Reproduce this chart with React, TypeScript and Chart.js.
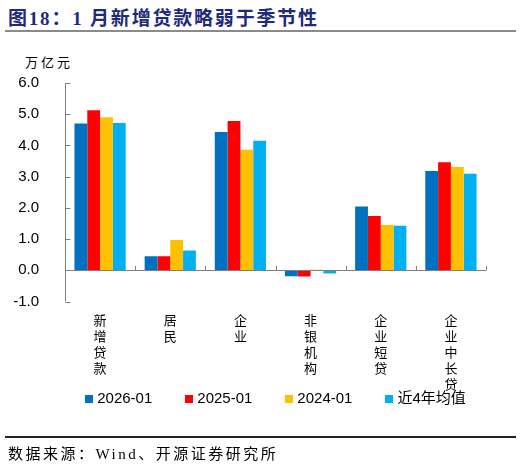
import { useEffect, useRef } from "react"
import { Chart, registerables, type Plugin } from "chart.js"

Chart.register(...registerables)

// vertical category labels: one character per line
const categories = [
  ["新", "增", "贷", "款"],
  ["居", "民"],
  ["企", "业"],
  ["非", "银", "机", "构"],
  ["企", "业", "短", "贷"],
  ["企", "业", "中", "长", "贷"],
]
const seriesNames = ["2026-01", "2025-01", "2024-01", "近4年均值"]
const jan2026 = [4.7, 0.45, 4.43, -0.19, 2.04, 3.18]
const jan2025 = [5.13, 0.45, 4.78, -0.2, 1.74, 3.46]
const jan2024 = [4.9, 0.97, 3.86, 0.02, 1.45, 3.31]
const avg4y = [4.72, 0.63, 4.15, -0.1, 1.43, 3.09]
const yTicks = [-1, 0, 1, 2, 3, 4, 5, 6]

const colors = ["#0070C0", "#FF0000", "#FFC000", "#00B0F0"]
const CJK = '"Noto Sans CJK SC", sans-serif'
const SANS = '"Liberation Sans", Arial, ' + CJK

// axis line, inward ticks and the zero line drawn from the scales
const axisLines: Plugin = {
  id: "axisLines",
  afterDatasetsDraw(chart) {
    const { ctx } = chart
    const x = chart.scales.x
    const y = chart.scales.y
    const ax = Math.round(x.left) + 0.5
    const zero = Math.round(y.getPixelForValue(0)) + 0.5
    ctx.save()
    ctx.strokeStyle = "#7f7f7f"
    ctx.lineWidth = 1
    ctx.beginPath()
    ctx.moveTo(ax, y.getPixelForValue(yTicks[yTicks.length - 1]))
    ctx.lineTo(ax, y.getPixelForValue(yTicks[0]))
    for (const v of yTicks) {
      const py = Math.round(y.getPixelForValue(v)) + 0.5
      ctx.moveTo(ax, py)
      ctx.lineTo(ax + 5, py)
    }
    ctx.moveTo(ax, zero)
    ctx.lineTo(x.right, zero)
    for (let i = 1; i <= categories.length; i++) {
      const px = Math.round(x.getPixelForValue(i - 0.5)) + 0.5
      ctx.moveTo(px, zero)
      ctx.lineTo(px, zero - 4.5)
    }
    ctx.stroke()
    ctx.restore()
  },
}

// legend row centred under the plot, small square + label
const legendRow: Plugin = {
  id: "legendRow",
  afterDraw(chart) {
    const { ctx, chartArea } = chart
    const box = 8
    const gapText = 4
    const gapItem = 33
    ctx.save()
    ctx.font = "15px " + SANS
    ctx.textBaseline = "middle"
    ctx.textAlign = "left"
    const items = chart.data.datasets.map((d) => ({
      text: String(d.label),
      color: String(d.backgroundColor),
      w: box + gapText + ctx.measureText(String(d.label)).width,
    }))
    const total = items.reduce((s, it) => s + it.w, 0) + gapItem * (items.length - 1)
    let cx = (chartArea.left + chartArea.right) / 2 - total / 2
    const cy = chartArea.bottom + 97
    for (const it of items) {
      ctx.fillStyle = it.color
      ctx.fillRect(Math.round(cx), Math.round(cy - box / 2), box, box)
      ctx.fillStyle = "#000"
      ctx.fillText(it.text, cx + box + gapText, cy)
      cx += it.w + gapItem
    }
    ctx.restore()
  },
}

function LoanChart() {
  const canvasRef = useRef<HTMLCanvasElement>(null)
  const chartRef = useRef<Chart | null>(null)

  useEffect(() => {
    if (!canvasRef.current) return
    if (chartRef.current) chartRef.current.destroy()

    const values = [jan2026, jan2025, jan2024, avg4y]
    chartRef.current = new Chart(canvasRef.current, {
      type: "bar",
      data: {
        labels: categories,
        datasets: seriesNames.map((name, i) => ({
          label: name,
          data: values[i],
          backgroundColor: colors[i],
          borderWidth: 0,
          categoryPercentage: 0.73,
          barPercentage: 1,
        })),
      },
      options: {
        animation: false,
        responsive: true,
        maintainAspectRatio: false,
        layout: { padding: { top: 83, left: 0, right: 36, bottom: 73.5 } },
        plugins: {
          tooltip: { enabled: false },
          legend: { display: false },
        },
        scales: {
          x: {
            grid: { display: false },
            border: { display: false },
            ticks: {
              color: "#000",
              autoSkip: false,
              maxRotation: 0,
              padding: 3,
              font: { family: CJK, size: 13, lineHeight: 16 / 13 },
            },
            afterFit: (s) => {
              s.height = 92
            },
          },
          y: {
            min: -1,
            max: 6,
            grid: { display: false },
            border: { display: false },
            ticks: {
              stepSize: 1,
              color: "#000",
              padding: 18,
              font: { family: SANS, size: 15 },
              callback: (v) => Number(v).toFixed(1),
            },
            afterFit: (s) => {
              s.width = 65
            },
          },
        },
      },
      plugins: [axisLines, legendRow],
    })

    return () => {
      if (chartRef.current) {
        chartRef.current.destroy()
        chartRef.current = null
      }
    }
  }, [])

  return <canvas ref={canvasRef} />
}

export default function App() {
  return (
    <div
      style={{
        position: "fixed",
        left: 0,
        top: 0,
        width: 522,
        height: 467,
        background: "#fff",
        overflow: "hidden",
      }}
    >
      <div
        style={{
          position: "absolute",
          left: 8,
          top: 3,
          fontSize: 19,
          fontWeight: "bold",
          color: "#1F2A7C",
          fontFamily: '"Liberation Serif", ' + CJK,
          whiteSpace: "nowrap",
          letterSpacing: 1.8,
        }}
      >
        图18：1 月新增贷款略弱于季节性
      </div>
      <div style={{ position: "absolute", left: 5, top: 30, width: 511, height: 2, background: "#8a8a8a" }} />
      <div
        style={{
          position: "absolute",
          left: 25,
          top: 52,
          fontSize: 13,
          letterSpacing: 3,
          fontFamily: CJK,
          color: "#000",
        }}
      >
        万亿元
      </div>
      <div style={{ position: "absolute", left: 0, top: 0, width: 522, height: 467 }}>
        <LoanChart />
      </div>
      <div style={{ position: "absolute", left: 5, top: 436, width: 511, height: 1.5, background: "#222" }} />
      <div
        style={{
          position: "absolute",
          left: 8,
          top: 442,
          fontSize: 15,
          letterSpacing: 2.5,
          fontFamily: '"Liberation Serif", ' + CJK,
          color: "#000",
          whiteSpace: "nowrap",
        }}
      >
        数据来源：Wind、开源证券研究所
      </div>
    </div>
  )
}
